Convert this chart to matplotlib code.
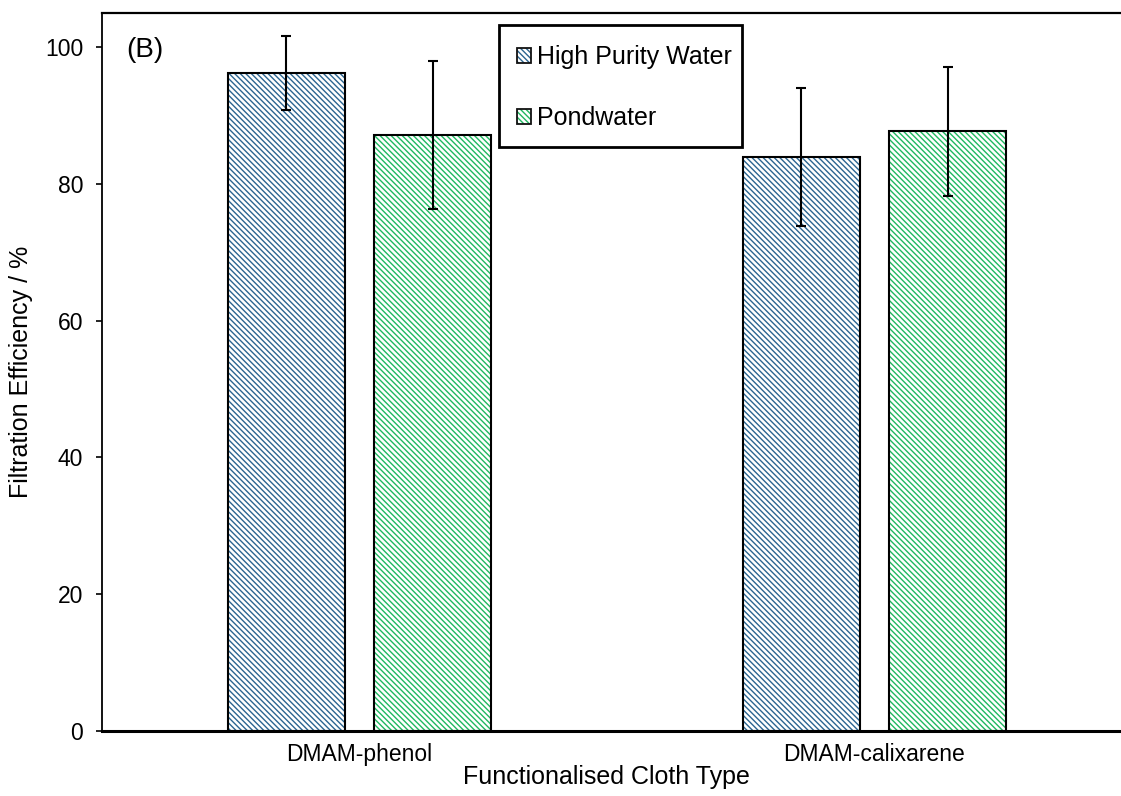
import matplotlib
matplotlib.use("Agg")
import matplotlib.pyplot as plt
import matplotlib.patches as mpatches
from matplotlib.legend_handler import HandlerTuple
import numpy as np

plt.rcParams.update({
    "font.family": ["Liberation Sans", "DejaVu Sans"],
    "font.size": 16.5,
    "hatch.linewidth": 1.0,
})

# ── Data ──────────────────────────────────────────────────────────────────────
CATEGORIES = ["DMAM-phenol", "DMAM-calixarene"]
SERIES = ["High Purity Water", "Pondwater"]
HPW_MEAN = [96.2, 83.9]
HPW_ERR = [5.4, 10.1]
POND_MEAN = [87.2, 87.7]
POND_ERR = [10.8, 9.4]

HATCH_COLORS = ["#2b6591", "#1fb860"]
HATCH = "\\" * 6

fig = plt.figure(figsize=(11.21, 7.96), dpi=100)
# axes runs a bit past the right edge of the figure (no right frame visible)
ax = fig.add_axes([0.091, 0.0817, 0.9188, 0.902])

x = np.arange(len(CATEGORIES)) + 0.5
w = 0.227
offsets = [-0.142, 0.142]
means = [HPW_MEAN, POND_MEAN]
errs = [HPW_ERR, POND_ERR]

handles = []
for off, m, e, col in zip(offsets, means, errs, HATCH_COLORS):
    # hatch layer, then a black outline on top
    ax.bar(x + off, m, width=w, color="white", edgecolor=col,
           hatch=HATCH, linewidth=0, zorder=2)
    ax.bar(x + off, m, width=w, fill=False, edgecolor="black",
           linewidth=1.5, zorder=3)
    ax.errorbar(x + off, m, yerr=e, fmt="none", ecolor="black",
                elinewidth=1.5, capsize=3.5, capthick=1.5, zorder=4)
    h1 = mpatches.Patch(facecolor="white", edgecolor=col, hatch=HATCH, linewidth=0)
    h2 = mpatches.Patch(fill=False, edgecolor="#111111", linewidth=1.3)
    handles.append((h1, h2))

ax.set_xlim(0, 2)
ax.set_ylim(0, 105)
ax.set_yticks([0, 20, 40, 60, 80, 100])
ax.set_xticks(x)
ax.set_xticklabels(CATEGORIES)
ax.tick_params(axis="x", length=0, pad=9)
ax.tick_params(axis="y", direction="out", length=4.5, width=1.2, pad=9)

ax.spines["right"].set_visible(False)
ax.spines["left"].set_linewidth(1.3)
ax.spines["top"].set_linewidth(1.6)
ax.spines["bottom"].set_linewidth(2.2)

ax.set_ylabel("Filtration Efficiency / %", fontsize=18)
ax.yaxis.set_label_coords(-0.067, 0.5)
ax.set_xlabel("Functionalised Cloth Type", fontsize=18)
ax.xaxis.set_label_coords(0.49, -0.047)

ax.text(0.0233, 0.949, "(B)", transform=ax.transAxes, ha="left", va="center",
        fontsize=20)

# legend entries without frame, box drawn separately
leg = fig.legend(handles, SERIES, handler_map={tuple: HandlerTuple(ndivide=1)},
                 loc="upper left", bbox_to_anchor=(0.4612, 0.9435),
                 borderaxespad=0, borderpad=0, frameon=False, fontsize=18,
                 handlelength=0.56, handleheight=0.56,
                 handletextpad=0.25, labelspacing=1.5)
box = mpatches.Rectangle((0.4451, 1 - 147 / 796), (742 - 499) / 1121, 122 / 796,
                         transform=fig.transFigure, fill=True, facecolor="white",
                         edgecolor="black", linewidth=2, zorder=5)
fig.patches.append(box)
leg.set_zorder(6)

fig.savefig("out.png", dpi=100)
